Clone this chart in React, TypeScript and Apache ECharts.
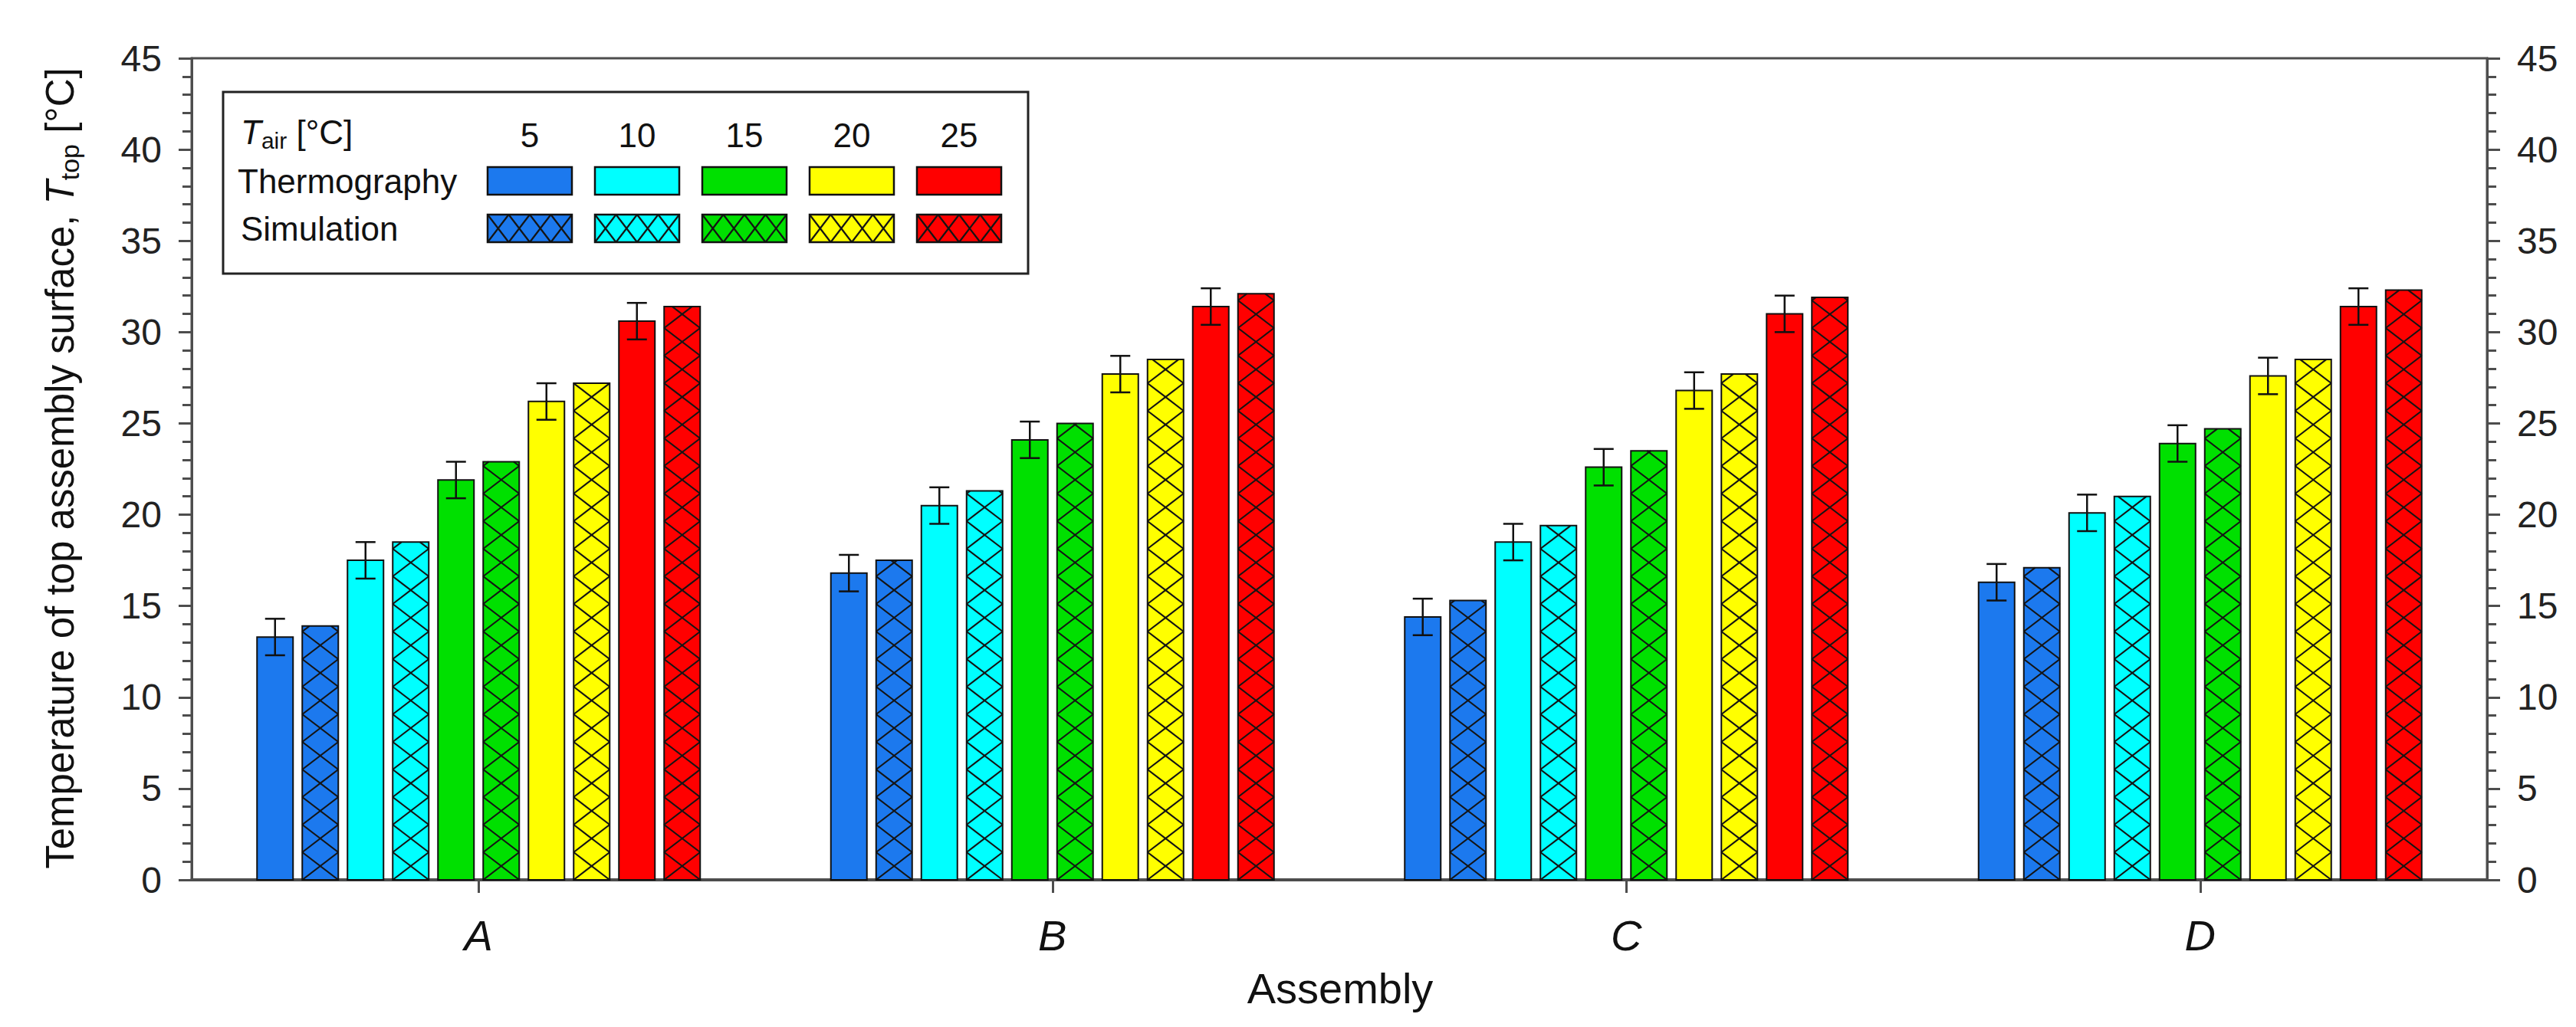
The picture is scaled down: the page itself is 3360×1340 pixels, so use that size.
import React, { useEffect, useRef } from "react";
import * as echarts from "echarts";

// ---------- data ----------
const categories = ["A", "B", "C", "D"];
const airTemps = ["5", "10", "15", "20", "25"];
const seriesColors = ["#1c79ee", "#00ffff", "#00e000", "#ffff00", "#ff0000"];

const thermo5 = [13.3, 16.8, 14.4, 16.3];
const thermo10 = [17.5, 20.5, 18.5, 20.1];
const thermo15 = [21.9, 24.1, 22.6, 23.9];
const thermo20 = [26.2, 27.7, 26.8, 27.6];
const thermo25 = [30.6, 31.4, 31.0, 31.4];

const thermoErr5 = [1.0, 1.0, 1.0, 1.0];
const thermoErr10 = [1.0, 1.0, 1.0, 1.0];
const thermoErr15 = [1.0, 1.0, 1.0, 1.0];
const thermoErr20 = [1.0, 1.0, 1.0, 1.0];
const thermoErr25 = [1.0, 1.0, 1.0, 1.0];

const sim5 = [13.9, 17.5, 15.3, 17.1];
const sim10 = [18.5, 21.3, 19.4, 21.0];
const sim15 = [22.9, 25.0, 23.5, 24.7];
const sim20 = [27.2, 28.5, 27.7, 28.5];
const sim25 = [31.4, 32.1, 31.9, 32.3];

const yTicks = [0, 5, 10, 15, 20, 25, 30, 35, 40, 45];

const thermoValues = [thermo5, thermo10, thermo15, thermo20, thermo25];
const thermoErrors = [thermoErr5, thermoErr10, thermoErr15, thermoErr20, thermoErr25];
const simValues = [sim5, sim10, sim15, sim20, sim25];

// ---------- layout / style ----------
const W = 3360;
const H = 1340;
const FONT = "'Liberation Sans', Arial, sans-serif";
const PITCH = 59;
const BAR_W = 47;
const HATCH_H = 36;
const AXIS_COLOR = "#4d4d4d";

function hatchLines(x0: number, x1: number, yb: number, yt: number, cellH: number) {
  const out: any[] = [];
  const w = x1 - x0;
  for (let k = 0; ; k++) {
    const ya = yb - k * cellH;
    if (ya <= yt + 0.5) break;
    let yEnd = ya - cellH;
    let f = 1;
    if (yEnd < yt) {
      f = (ya - yt) / cellH;
      yEnd = yt;
    }
    out.push({ x1: x0, y1: ya, x2: x0 + f * w, y2: yEnd });
    out.push({ x1: x1, y1: ya, x2: x1 - f * w, y2: yEnd });
  }
  return out;
}

function makeThermoSeries(t: number) {
  const data = categories.map((_, i) => [i, thermoValues[t][i], thermoErrors[t][i]]);
  return {
    type: "custom",
    name: "Thermography " + airTemps[t],
    data,
    encode: { x: 0, y: 1 },
    z: 3,
    renderItem: (params: any, api: any) => {
      const ci = api.value(0);
      const v = api.value(1);
      const e = api.value(2);
      const base = api.coord([ci, 0]);
      const top = api.coord([ci, v]);
      const hi = api.coord([ci, v + e])[1];
      const lo = api.coord([ci, v - e])[1];
      const cx = base[0] + (2 * t - 4.5) * PITCH;
      const x0 = cx - BAR_W / 2;
      const capW = 13;
      const errStyle = { stroke: "#111", lineWidth: 2.5 };
      return {
        type: "group",
        children: [
          {
            type: "rect",
            shape: { x: x0, y: top[1], width: BAR_W, height: base[1] - top[1] },
            style: { fill: seriesColors[t], stroke: "#111", lineWidth: 2 },
          },
          { type: "line", shape: { x1: cx, y1: hi, x2: cx, y2: lo }, style: errStyle, z2: 5 },
          { type: "line", shape: { x1: cx - capW, y1: hi, x2: cx + capW, y2: hi }, style: errStyle, z2: 5 },
          { type: "line", shape: { x1: cx - capW, y1: lo, x2: cx + capW, y2: lo }, style: errStyle, z2: 5 },
        ],
      };
    },
  };
}

function makeSimSeries(t: number) {
  const data = categories.map((_, i) => [i, simValues[t][i]]);
  return {
    type: "custom",
    name: "Simulation " + airTemps[t],
    data,
    encode: { x: 0, y: 1 },
    z: 3,
    renderItem: (params: any, api: any) => {
      const ci = api.value(0);
      const v = api.value(1);
      const base = api.coord([ci, 0]);
      const top = api.coord([ci, v]);
      const cx = base[0] + (2 * t + 1 - 4.5) * PITCH;
      const x0 = cx - BAR_W / 2;
      const x1 = cx + BAR_W / 2;
      const lines = hatchLines(x0, x1, base[1], top[1], HATCH_H).map((s) => ({
        type: "line",
        shape: s,
        style: { stroke: "#141414", lineWidth: 2.2 },
        z2: 2,
      }));
      return {
        type: "group",
        children: [
          {
            type: "rect",
            shape: { x: x0, y: top[1], width: BAR_W, height: base[1] - top[1] },
            style: { fill: seriesColors[t], stroke: "none" },
          },
          ...lines,
          {
            type: "rect",
            shape: { x: x0, y: top[1], width: BAR_W, height: base[1] - top[1] },
            style: { fill: "none", stroke: "#111", lineWidth: 2 },
            z2: 3,
          },
        ],
      };
    },
  };
}

function buildLegend() {
  const els: any[] = [];
  const L = 291, T = 120, LW = 1050, LH = 237;
  els.push({
    type: "rect",
    shape: { x: L, y: T, width: LW, height: LH },
    style: { fill: "#fff", stroke: "#222", lineWidth: 3 },
    z: 10,
  });
  els.push({
    type: "text",
    x: 314,
    y: 172,
    z: 11,
    style: {
      text: "{i|T}{s|air}{n| [°C]}",
      align: "left",
      verticalAlign: "middle",
      fill: "#111",
      rich: {
        i: { fontFamily: FONT, fontSize: 44, fontStyle: "italic", fill: "#111" },
        s: { fontFamily: FONT, fontSize: 30, fill: "#111", padding: [22, 0, 0, 0] },
        n: { fontFamily: FONT, fontSize: 44, fill: "#111" },
      },
    },
  });
  els.push({
    type: "text", x: 310, y: 236, z: 11,
    style: { text: "Thermography", font: `44px ${FONT}`, fill: "#111", align: "left", verticalAlign: "middle" },
  });
  els.push({
    type: "text", x: 314, y: 298, z: 11,
    style: { text: "Simulation", font: `44px ${FONT}`, fill: "#111", align: "left", verticalAlign: "middle" },
  });
  const bw = 110, bh = 36;
  airTemps.forEach((lab, k) => {
    const bx = 636 + k * 140;
    els.push({
      type: "text", x: bx + bw / 2, y: 176, z: 11,
      style: { text: lab, font: `44px ${FONT}`, fill: "#111", align: "center", verticalAlign: "middle" },
    });
    els.push({
      type: "rect", z: 11,
      shape: { x: bx, y: 218, width: bw, height: bh },
      style: { fill: seriesColors[k], stroke: "#111", lineWidth: 2.5 },
    });
    const sy = 280;
    els.push({
      type: "rect", z: 11,
      shape: { x: bx, y: sy, width: bw, height: bh },
      style: { fill: seriesColors[k], stroke: "none" },
    });
    const cw = bw / 4;
    for (let c = 0; c < 4; c++) {
      els.push({
        type: "line", z: 12,
        shape: { x1: bx + c * cw, y1: sy, x2: bx + (c + 1) * cw, y2: sy + bh },
        style: { stroke: "#141414", lineWidth: 2.2 },
      });
      els.push({
        type: "line", z: 12,
        shape: { x1: bx + (c + 1) * cw, y1: sy, x2: bx + c * cw, y2: sy + bh },
        style: { stroke: "#141414", lineWidth: 2.2 },
      });
    }
    els.push({
      type: "rect", z: 13,
      shape: { x: bx, y: sy, width: bw, height: bh },
      style: { fill: "none", stroke: "#111", lineWidth: 2.5 },
    });
  });
  return els;
}

function buildOption() {
  const yAxisCommon = {
    type: "value",
    min: yTicks[0],
    max: yTicks[yTicks.length - 1],
    interval: yTicks[1] - yTicks[0],
    axisLine: { show: true, lineStyle: { color: AXIS_COLOR, width: 3 } },
    axisTick: { show: true, inside: false, length: 17, lineStyle: { color: AXIS_COLOR, width: 3 } },
    minorTick: { show: true, splitNumber: 5, length: 12, lineStyle: { color: AXIS_COLOR, width: 3 } },
    splitLine: { show: false },
    minorSplitLine: { show: false },
    axisLabel: { fontSize: 48, fontFamily: FONT, color: "#222", margin: 39 },
  };
  return {
    animation: false,
    backgroundColor: "#fff",
    grid: {
      left: 250,
      right: 116,
      top: 76,
      bottom: 192,
      show: true,
      borderColor: AXIS_COLOR,
      borderWidth: 3,
      backgroundColor: "transparent",
    },
    xAxis: {
      type: "category",
      data: categories,
      boundaryGap: true,
      axisLine: { show: true, lineStyle: { color: AXIS_COLOR, width: 4 } },
      axisTick: { show: true, alignWithLabel: true, length: 17, lineStyle: { color: AXIS_COLOR, width: 3 } },
      axisLabel: { fontSize: 56, fontStyle: "italic", fontFamily: FONT, color: "#111", margin: 44 },
      splitLine: { show: false },
    },
    yAxis: [
      { ...yAxisCommon, position: "left" },
      { ...yAxisCommon, position: "right" },
    ],
    series: [
      ...airTemps.map((_, t) => makeThermoSeries(t)),
      ...airTemps.map((_, t) => makeSimSeries(t)),
    ],
    graphic: [
      ...buildLegend(),
      {
        type: "text",
        x: 78,
        y: 611,
        rotation: Math.PI / 2,
        style: {
          text: "Temperature of top assembly surface, {i|T}{s|top}{n| [°C]}",
          font: `51px ${FONT}`,
          fill: "#111",
          align: "center",
          verticalAlign: "middle",
          rich: {
            i: { fontFamily: FONT, fontSize: 51, fontStyle: "italic", fill: "#111" },
            s: { fontFamily: FONT, fontSize: 34, fill: "#111", padding: [26, 0, 0, 0] },
            n: { fontFamily: FONT, fontSize: 51, fill: "#111" },
          },
        },
      },
      {
        type: "text",
        x: 1748,
        y: 1289,
        style: {
          text: "Assembly",
          font: `56px ${FONT}`,
          fill: "#111",
          align: "center",
          verticalAlign: "middle",
        },
      },
    ],
  };
}

export default function App() {
  const ref = useRef<HTMLDivElement>(null);
  useEffect(() => {
    document.body.style.margin = "0";
    document.body.style.overflow = "hidden";
    if (!ref.current) return;
    const chart = echarts.init(ref.current, null, { renderer: "svg" });
    chart.setOption(buildOption() as any);
    return () => chart.dispose();
  }, []);
  return <div ref={ref} style={{ width: W, height: H, background: "#fff" }} />;
}
